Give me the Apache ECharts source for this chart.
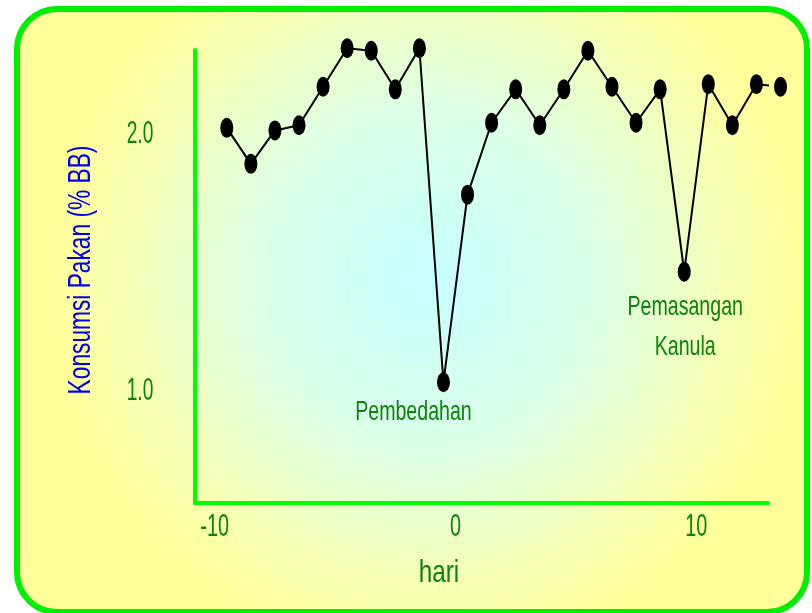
<!DOCTYPE html>
<html>
<head>
<meta charset="utf-8">
<script src="https://cdn.jsdelivr.net/npm/echarts@6/dist/echarts.min.js"></script>
<style>
  html, body { margin: 0; padding: 0; background: #fff; }
  #chart { width: 812px; height: 613px; }
</style>
</head>
<body>
<div id="chart"></div>
<script>
  // hari (day) and feed intake
  const days = [-9, -8, -7, -6, -5, -4, -3, -2, -1, 0, 1, 2, 3, 4, 5, 6, 7, 8, 9, 10, 11, 12, 13, 14]
  const intake = [2.02, 1.88, 2.01, 2.03, 2.18, 2.33, 2.32, 2.17, 2.33, 1.03, 1.76, 2.04,
                  2.17, 2.03, 2.17, 2.32, 2.18, 2.04, 2.17, 1.46, 2.19, 2.03, 2.19, 2.18]
  const xTicks = [-10, 0, 10]
  const yTicks = [1, 2]
  // annotations attached to points
  const notes = [
    { day: 0, text: 'Pembedahan' },
    { day: 10, text: 'Pemasangan\nKanula' }
  ]

  const font = '"Liberation Sans", Arial, sans-serif'
  const green = '#0c830c'

  const chart = echarts.init(document.getElementById('chart'))

  const option = {
    animation: false,
    graphic: [
      {
        id: 'bg',
        type: 'rect',
        z: -10,
        silent: true,
        shape: { x: 17, y: 9, width: 790, height: 603, r: 40 },
        style: {
          fill: new echarts.graphic.RadialGradient(0.52, 0.45, 0.62, [
            { offset: 0, color: '#c6ffff' },
            { offset: 0.45, color: '#dcffe6' },
            { offset: 0.8, color: '#f6ffb4' },
            { offset: 1, color: '#ffff99' }
          ]),
          stroke: '#00ee00',
          lineWidth: 6
        }
      }
    ],
    grid: { left: 195, top: 50, right: 44, bottom: 110 },
    xAxis: {
      type: 'value',
      min: -10.32,
      max: 13.48,
      axisLine: { show: true, onZero: false, lineStyle: { color: '#00ff00', width: 4 } },
      axisTick: { show: false },
      splitLine: { show: false },
      axisLabel: { show: false }
    },
    yAxis: {
      type: 'value',
      min: 0.56,
      max: 2.323,
      axisLine: { show: true, onZero: false, lineStyle: { color: '#00ff00', width: 4 } },
      axisTick: { show: false },
      splitLine: { show: false },
      axisLabel: { show: false }
    },
    series: [
      {
        type: 'line',
        data: days.map((d, i) => [d, intake[i]]),
        clip: false,
        symbol: 'circle',
        symbolSize: [13, 20],
        itemStyle: { color: '#000' },
        lineStyle: { color: '#000', width: 2 }
      }
    ]
  }
  chart.setOption(option)

  //原图文字是很窄的字体，这里用横向压缩的文字，位置从坐标系换算
  const narrowText = (id, x, y, text, color, size, sx, rot) => ({
    id: id,
    type: 'text',
    x: x,
    y: y,
    rotation: rot || 0,
    scaleX: sx,
    silent: true,
    style: {
      text: text,
      fill: color,
      font: size + 'px ' + font,
      align: 'center',
      verticalAlign: 'middle',
      lineHeight: 40
    }
  })

  const toPx = (x, y) => chart.convertToPixel({ gridIndex: 0 }, [x, y])
  const yMin = option.yAxis.min
  const xMin = option.xAxis.min

  // 刻度标签
  const xTickGraphics = xTicks.map((t, k) =>
    narrowText('xt' + k, toPx(t, yMin)[0] + 12, toPx(t, yMin)[1] + 24, String(t), green, 32, 0.62))
  const yTickGraphics = yTicks.map((t, k) =>
    narrowText('yt' + k, toPx(xMin, t)[0] - 55, toPx(xMin, t)[1] + 1, t.toFixed(1), green, 32, 0.6))

  // 注释
  const noteGraphics = notes.map((n, k) => {
    const p = toPx(n.day, intake[days.indexOf(n.day)])
    const off = n.day === 0 ? [-30, 30] : [1, 56]
    return narrowText('note' + k, p[0] + off[0], p[1] + off[1], n.text, green, 28, 0.7)
  })

  chart.setOption({
    graphic: [
      narrowText('yname', 81, 270, 'Konsumsi Pakan (% BB)', '#0000ee', 32, 0.71, Math.PI / 2),
      narrowText('xname', 439, 573, 'hari', green, 32, 0.76)
    ].concat(xTickGraphics, yTickGraphics, noteGraphics)
  })
</script>
</body>
</html>
